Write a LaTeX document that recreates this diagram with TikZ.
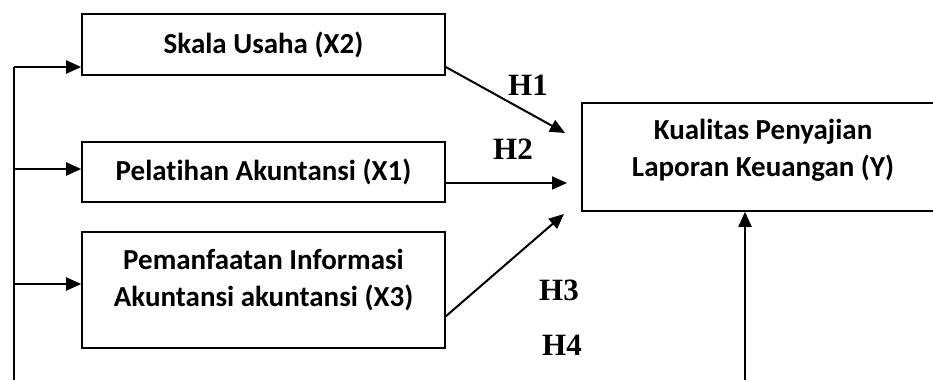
\documentclass[tikz,border=0pt]{standalone}
\usepackage{fontspec}
\setmainfont{Carlito}[Ligatures=NoCommon]
\newfontfamily\hfont{Liberation Serif}
\usetikzlibrary{arrows.meta}
\begin{document}
\begin{tikzpicture}[x=1pt,y=-1pt,
  boxnode/.style={draw,line width=1.6pt,inner sep=0pt},
  boxtext/.style={font=\fontsize{29}{37}\selectfont\bfseries,align=center,inner sep=0pt},
  hlabel/.style={font=\hfont\fontsize{31}{31}\selectfont\bfseries,inner sep=0pt},
  conn/.style={line width=2pt},
  arr/.style={line width=2pt,-{Triangle[length=15pt,width=13pt]}}]
\useasboundingbox (0,0) rectangle (933,380);
% boxes
\node[boxnode,minimum width=363pt,minimum height=61pt,boxtext] (X2) at (263.5,44.5) {Skala Usaha (X2)};
\node[boxnode,minimum width=363pt,minimum height=60pt,boxtext] (X1) at (263.5,172) {Pelatihan Akuntansi (X1)};
\node[boxnode,minimum width=363pt,minimum height=116pt] (X3) at (263.5,290) {};
\node[boxtext] (X3t) at (263.5,280) {Pemanfaatan Informasi\\Akuntansi akuntansi (X3)};
\node[boxnode,minimum width=370pt,minimum height=108pt] (Y) at (767,157) {};
\node[boxtext] (Yt) at (763,150) {Kualitas Penyajian\\Laporan Keuangan (Y)};
% left bus
\coordinate (b1) at (14,380);
\coordinate (l1) at (14,67);
\coordinate (l2) at (14,169);
\coordinate (l3) at (14,284);
\draw[conn] (b1) -- (l1);
\draw[arr] (l1) -- (l1 -| X2.west);
\draw[arr] (l2) -- (l2 -| X1.west);
\draw[arr] (l3) -- (l3 -| X3.west);
% hypotheses arrows
\coordinate (e1) at (565,133);
\coordinate (e2) at (567,183);
\coordinate (e3) at (564,214);
\coordinate (s3) at (445,317);
\draw[arr] (l1 -| X2.east) -- (e1);
\draw[arr] (e2 -| X1.east) -- (e2);
\draw[arr] (s3) -- (e3);
% vertical arrow from below
\coordinate (b2) at (745,380);
\draw[arr] (b2) -- (b2 |- Y.south);
% labels
\node[hlabel] (H1) at (528,85) {H1};
\node[hlabel] (H2) at (513,149) {H2};
\node[hlabel] (H3) at (559,290) {H3};
\node[hlabel] (H4) at (562,345) {H4};
\end{tikzpicture}
\end{document}
